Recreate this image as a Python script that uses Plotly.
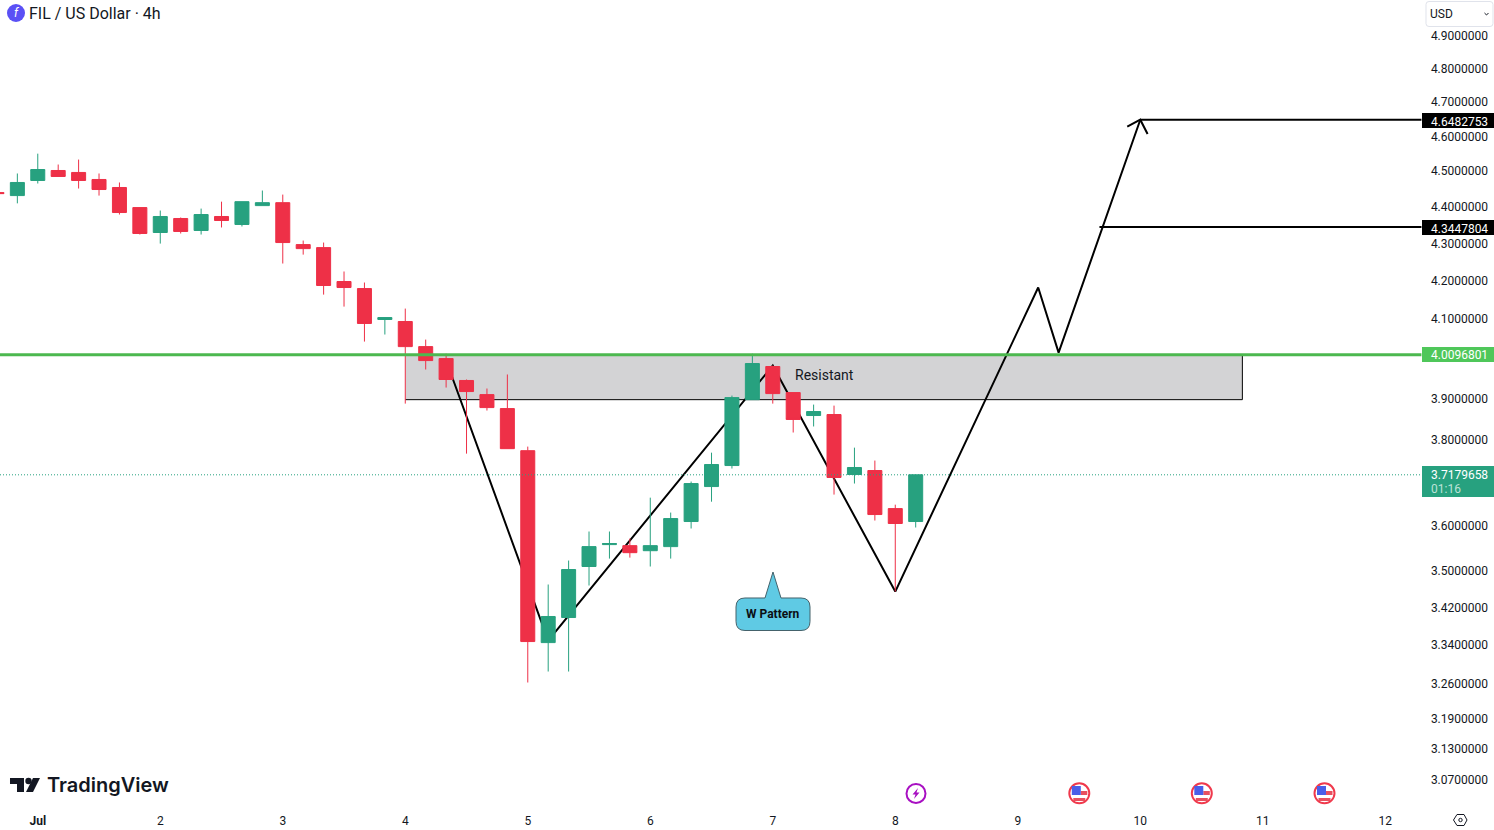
import pandas as pd
import plotly.graph_objects as go

# ---------- data ----------
candle_start = "2024-06-30 16:00"
opens = [4.4401,4.4317,4.4740,4.5022,4.4966,4.4768,4.4543,4.3984,4.3300,4.3683,4.3355,4.3738,4.3519,4.4038,
         4.4120,4.2972,4.2890,4.1986,4.1800,4.0994,4.0943,4.0301,3.9999,3.9452,3.9103,3.8761,3.7748,3.3456,
         3.3988,3.5096,3.5583,3.5560,3.5447,3.5538,3.6103,3.6906,3.7397,3.8979,3.9800,3.9153,3.8592,3.8616,
         3.7187,3.7280,3.6398,3.6103]
closes = [4.4373,4.4684,4.5050,4.4853,4.4740,4.4486,4.3847,4.3273,4.3738,4.3328,4.3792,4.3628,4.4148,4.4120,
          4.3027,4.2863,4.1880,4.1827,4.0892,4.1045,4.0301,3.9949,3.9476,3.9178,3.8785,3.7796,3.3478,3.4010,
          3.5030,3.5538,3.5606,3.5403,3.5560,3.6171,3.6976,3.7421,3.9029,3.9875,3.9128,3.8496,3.8689,3.7117,
          3.7351,3.6262,3.6058,3.7180]
highs = [4.4401,4.4937,4.5501,4.5191,4.5332,4.4937,4.4684,4.3984,4.3902,4.3710,4.3956,4.4148,4.4148,4.4458,
         4.4345,4.3081,4.3027,4.2251,4.1959,4.1045,4.1277,4.0480,4.0123,3.9476,3.9253,3.9601,3.7845,3.4701,
         3.5228,3.5877,3.5877,3.5719,3.6649,3.6307,3.7023,3.7701,3.9079,4.0123,3.9825,3.9153,3.8858,3.8833,
         3.7820,3.7514,3.6488,3.7180]
lows = [4.4373,4.4101,4.4655,4.4853,4.4514,4.4317,4.3792,4.3245,4.2999,4.3273,4.3245,4.3437,4.3464,4.4038,
        4.2463,4.2702,4.1641,4.1328,4.0429,4.0609,3.8882,3.9725,3.9277,3.7678,3.8713,3.7796,3.2627,3.2853,
        3.2853,3.4679,3.5271,3.5293,3.5096,3.5271,3.5945,3.6556,3.7327,3.8979,3.8882,3.8182,3.8327,3.6720,
        3.6976,3.6126,3.4547,3.5968]

y_tick_values = [4.9,4.8,4.7,4.6,4.5,4.4,4.3,4.2,4.1,3.9,3.8,3.6,3.5,3.42,3.34,3.26,3.19,3.13,3.07]
x_tick_dates = ["2024-07-%02d" % d for d in range(1, 13)]
x_tick_labels = ["<b>Jul</b>"] + [str(d) for d in range(2, 13)]

pattern_times = ["2024-07-04 08:00","2024-07-05 04:00","2024-07-07 00:00","2024-07-08 00:00",
                 "2024-07-09 04:00","2024-07-09 08:00","2024-07-10 00:00"]
pattern_prices = [3.995,3.3499,3.9825,3.4547,4.1827,4.0148,4.6482753]
arrow_times = ["2024-07-09 21:27","2024-07-10 00:00","2024-07-10 01:26"]
arrow_prices = [4.6279,4.6482753,4.6065]

level_end = "2024-07-12 07:05"
target_high = 4.6482753
target_high_start = "2024-07-10 00:00"
target_low = 4.3447804
target_low_start = "2024-07-09 16:00"
resistance = 4.0096801
last_price = 3.7179658
zone_times = ["2024-07-04 00:00","2024-07-10 20:00"]
zone_bottom = 3.8979

# ---------- view ----------
WIDTH, HEIGHT = 1494, 830
x_view = ["2024-06-30 16:36","2024-07-12 21:18"]
y_view = [0.47329,0.69999]   # log10 of price
UP, DOWN = "#27A17F", "#EE3047"
INK = "#131722"

times = pd.date_range(candle_start, periods=len(opens), freq="4h")

fig = go.Figure()

# lower layer: zone and pattern lines
fig.add_trace(go.Scatter(x=[zone_times[0],zone_times[1],zone_times[1],zone_times[0],zone_times[0]],
                         y=[zone_bottom,zone_bottom,resistance,resistance,zone_bottom],
                         mode="lines", fill="toself", fillcolor="#D3D3D5",
                         line=dict(width=0), hoverinfo="skip", showlegend=False))
fig.add_trace(go.Scatter(x=[zone_times[0],zone_times[1],zone_times[1]],
                         y=[zone_bottom,zone_bottom,resistance], mode="lines",
                         line=dict(color="#000000", width=1), hoverinfo="skip", showlegend=False))
fig.add_trace(go.Scatter(x=pattern_times, y=pattern_prices, mode="lines",
                         line=dict(color="#000000", width=2), hoverinfo="skip", showlegend=False))
fig.add_trace(go.Scatter(x=arrow_times, y=arrow_prices, mode="lines",
                         line=dict(color="#000000", width=2), hoverinfo="skip", showlegend=False))
fig.add_trace(go.Scatter(x=[target_high_start,level_end], y=[target_high,target_high], mode="lines",
                         line=dict(color="#000000", width=2), hoverinfo="skip", showlegend=False))
fig.add_trace(go.Scatter(x=[target_low_start,level_end], y=[target_low,target_low], mode="lines",
                         line=dict(color="#000000", width=2), hoverinfo="skip", showlegend=False))

# middle layer: candles
fig.add_trace(go.Candlestick(x=times, open=opens, high=highs, low=lows, close=closes, yaxis="y2",
                             increasing=dict(fillcolor=UP, line=dict(color=UP, width=1)),
                             decreasing=dict(fillcolor=DOWN, line=dict(color=DOWN, width=1)),
                             whiskerwidth=0, showlegend=False))

# top layer: resistance level and last-price line
fig.add_trace(go.Scatter(x=[x_view[0],level_end], y=[resistance,resistance], mode="lines", yaxis="y3",
                         line=dict(color="#4CB84F", width=3), hoverinfo="skip", showlegend=False))
fig.add_trace(go.Scatter(x=[x_view[0],level_end], y=[last_price,last_price], mode="lines", yaxis="y3",
                         line=dict(color=UP, width=1, dash="1px,2px"), hoverinfo="skip", showlegend=False))

# helpers for chrome placed in page pixels
def fx(x): return x / WIDTH
def fy(y): return 1 - y / HEIGHT

def path(points, close=True):
    s = "M " + " L ".join(f"{fx(x):.5f},{fy(y):.5f}" for x, y in points)
    return s + (" Z" if close else "")

shapes, notes = [], []

def add_poly(points, fill=None, line=None, lw=1, close=True):
    shapes.append(dict(type="path", xref="paper", yref="paper", path=path(points, close),
                       fillcolor=fill if fill else "rgba(0,0,0,0)",
                       line=dict(color=line if line else "rgba(0,0,0,0)", width=lw if line else 0),
                       layer="above"))

def add_rect(x0, y0, x1, y1, fill):
    shapes.append(dict(type="rect", xref="paper", yref="paper", x0=fx(x0), x1=fx(x1), y0=fy(y1), y1=fy(y0),
                       fillcolor=fill, line=dict(width=0), layer="above"))

def add_circle(cx, cy, r, fill=None, line=None, lw=1):
    shapes.append(dict(type="circle", xref="paper", yref="paper", x0=fx(cx-r), x1=fx(cx+r), y0=fy(cy+r), y1=fy(cy-r),
                       fillcolor=fill if fill else "rgba(0,0,0,0)",
                       line=dict(color=line if line else "rgba(0,0,0,0)", width=lw if line else 0),
                       layer="above"))

def add_text(x, y, text, size=12, color=INK, anchor="left", family="Roboto", weight=None):
    font = dict(size=size, color=color, family=family)
    if weight: font["weight"] = weight
    notes.append(dict(xref="paper", yref="paper", x=fx(x), y=fy(y), text=text, showarrow=False,
                      xanchor=anchor, yanchor="middle", font=font, borderpad=0))

# header
add_circle(16, 13, 9, fill="#5A50F5")
add_text(16, 13, "<i>f</i>", size=12, color="#FFFFFF", anchor="center")
add_text(28, 13, "FIL / US Dollar · 4h", size=16)

# USD selector
shapes.append(dict(type="path", xref="paper", yref="paper", layer="above", fillcolor="#FFFFFF",
                   line=dict(color="#E0E3EB", width=1),
                   path=(f"M {fx(1429):.5f},{fy(1.5):.5f} L {fx(1490):.5f},{fy(1.5):.5f} "
                         f"Q {fx(1493):.5f},{fy(1.5):.5f} {fx(1493):.5f},{fy(4.5):.5f} "
                         f"L {fx(1493):.5f},{fy(23.5):.5f} Q {fx(1493):.5f},{fy(26.5):.5f} {fx(1490):.5f},{fy(26.5):.5f} "
                         f"L {fx(1429):.5f},{fy(26.5):.5f} Q {fx(1426):.5f},{fy(26.5):.5f} {fx(1426):.5f},{fy(23.5):.5f} "
                         f"L {fx(1426):.5f},{fy(4.5):.5f} Q {fx(1426):.5f},{fy(1.5):.5f} {fx(1429):.5f},{fy(1.5):.5f} Z")))
add_text(1429, 14, "USD", size=12)
add_poly([(1484.5,13),(1486.5,15),(1488.5,13)], line=INK, lw=1, close=False)

# price tags
def tag(y0, y1, fill, text, tcolor="#FFFFFF"):
    add_rect(1422, y0, 1494, y1, fill)
    add_text(1489, (y0+y1)/2 + 1, text, size=12, color=tcolor, anchor="right")

tag(113, 128, "#000000", "4.6482753")
tag(220, 235, "#000000", "4.3447804")
tag(347, 362, "#4FC75A", "4.0096801")
add_rect(1422, 466, 1494, 497, UP)
add_text(1489, 475, "3.7179658", size=12, color="#FFFFFF", anchor="right")
add_text(1430, 489, "01:16", size=12, color="#BDE3D8", anchor="left")

# zone label
add_text(794, 375, "Resistant", size=14)

# W Pattern callout
L, R, T, B, r = 736, 810, 598, 630.5, 9
callout = (f"M {fx(L+r):.5f},{fy(T):.5f} L {fx(765):.5f},{fy(T):.5f} L {fx(773):.5f},{fy(572):.5f} "
           f"L {fx(781):.5f},{fy(T):.5f} L {fx(R-r):.5f},{fy(T):.5f} Q {fx(R):.5f},{fy(T):.5f} {fx(R):.5f},{fy(T+r):.5f} "
           f"L {fx(R):.5f},{fy(B-r):.5f} Q {fx(R):.5f},{fy(B):.5f} {fx(R-r):.5f},{fy(B):.5f} "
           f"L {fx(L+r):.5f},{fy(B):.5f} Q {fx(L):.5f},{fy(B):.5f} {fx(L):.5f},{fy(B-r):.5f} "
           f"L {fx(L):.5f},{fy(T+r):.5f} Q {fx(L):.5f},{fy(T):.5f} {fx(L+r):.5f},{fy(T):.5f} Z")
shapes.append(dict(type="path", xref="paper", yref="paper", layer="above", path=callout,
                   fillcolor="#5FCAE4", line=dict(color="#44626B", width=1)))
add_text(773, 614, "<b>W Pattern</b>", size=12, color="#0B0F14", anchor="center")

# TradingView logo
add_poly([(10,778),(24,778),(24,792),(17,792),(17,784),(10,784)], fill=INK)
add_circle(28.5, 781, 3.2, fill=INK)
add_poly([(33,778),(40,778),(33,792),(26,792)], fill=INK)
add_text(46, 785, "TradingView", size=20, family="Inter", weight=600)

# event icons
add_circle(916, 793.5, 9.5, fill="#FFFFFF", line="#A80FC2", lw=2)
add_poly([(918,788),(912.5,794.5),(915.5,794.5),(914,799),(919.5,792.5),(916.5,792.5)], fill="#A80FC2")
for cx in (1079.3, 1201.8, 1324.5):
    add_circle(cx, 793.3, 10, fill="#FFFFFF", line="#F0394C", lw=2)
    add_rect(cx+1.5, 791, cx+8, 795, "#E8505F")
    add_rect(cx-6, 798, cx+6, 801, "#E8505F")
    add_rect(cx-7.5, 786, cx+1.5, 795, "#4A5EE8")

# settings hexagon
add_poly([(1453.5,820),(1457,814.5),(1464,814.5),(1467,820),(1464,825.5),(1457,825.5)], line=INK, lw=1)
add_circle(1460.5, 820, 1.7, line=INK, lw=1)

y_axis_common = dict(type="log", range=y_view, showgrid=False, zeroline=False, showline=False, fixedrange=True)

fig.update_layout(
    width=WIDTH, height=HEIGHT, margin=dict(l=0, r=0, t=0, b=0),
    paper_bgcolor="#FFFFFF", plot_bgcolor="rgba(0,0,0,0)", showlegend=False,
    boxgap=0.02, boxgroupgap=0.3,
    font=dict(family="Roboto", size=12, color=INK),
    shapes=shapes, annotations=notes,
    xaxis=dict(type="date", range=x_view, tickmode="array", tickvals=x_tick_dates, ticktext=x_tick_labels,
               ticklabelposition="inside", ticklen=0, showgrid=False, zeroline=False, showline=False,
               rangeslider=dict(visible=False), tickfont=dict(family="Roboto", size=12, color=INK), fixedrange=True),
    yaxis=dict(side="right", tickmode="array", tickvals=y_tick_values, tickformat=".7f",
               ticklabelposition="inside", ticklen=0, ticklabelstandoff=3,
               tickfont=dict(family="Roboto", size=12, color=INK), **y_axis_common),
    yaxis2=dict(overlaying="y", visible=False, **y_axis_common),
    yaxis3=dict(overlaying="y", visible=False, **y_axis_common),
)

fig.write_html("out.html", config=dict(displayModeBar=False),
               post_script="document.body.style.margin='0';document.body.style.overflow='hidden';")
